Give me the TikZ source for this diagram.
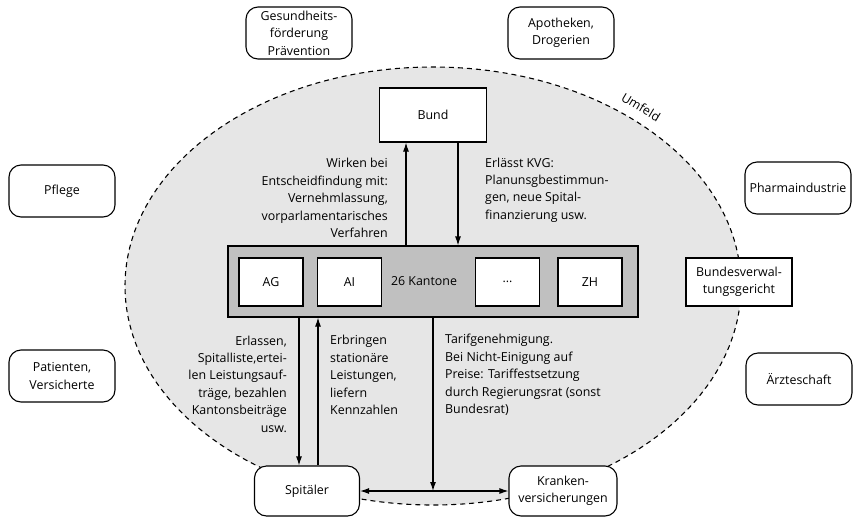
\documentclass[tikz,border=0pt]{standalone}
\usepackage{fontspec}
\setmainfont{Open Sans}
\usetikzlibrary{shapes.geometric,arrows.meta}
\begin{document}
\begin{tikzpicture}[x=1pt,y=-1pt]
    \definecolor{field_color}{RGB}{230,230,230}
    \definecolor{canton_color}{RGB}{192,192,192}
    \tikzstyle{every node} = [font=\fontsize{12.4}{17.4}\selectfont]
    \tikzstyle{actor} = [draw, fill=white, rounded corners=12pt, line width=1.1pt, minimum width=106pt, minimum height=52pt, align=center, inner sep=1pt]
    \tikzstyle{box} = [draw, fill=white, line width=1.1pt, align=center, inner sep=1pt]
    \tikzstyle{canton} = [box, minimum width=64pt, minimum height=48pt]
    \tikzstyle{ann} = [align=left, inner sep=0pt]
    \tikzstyle{arr} = [line width=1.1pt, -{Latex[length=9pt,width=6pt]}]
    \tikzstyle{arr2} = [line width=1.1pt, {Latex[length=9pt,width=6pt]}-{Latex[length=9pt,width=6pt]}]
    \useasboundingbox (0,0) rectangle (854,520);
    \node[ellipse, draw, fill=field_color, line width=1.1pt, dash pattern=on 5pt off 4pt, minimum width=616pt, minimum height=438pt, inner sep=0pt] (umfeld) at (433,286) {};
    \node[rotate=-31] (umfeldlabel) at (641,107) {Umfeld};
    \node[actor] (gesund) at (299,33) {Gesundheits-\\förderung\\Prävention};
    \node[actor] (apo) at (561,33) {Apotheken,\\Drogerien};
    \node[actor] (pflege) at (62,191) {Pflege};
    \node[actor] (patient) at (62,376) {Patienten,\\Versicherte};
    \node[actor] (pharma) at (798,188) {Pharmaindustrie};
    \node[box, minimum width=106pt, minimum height=48pt] (bvger) at (739,282) {Bundesverwal-\\tungsgericht};
    \node[actor] (aerzte) at (799,379) {Ärzteschaft};
    \node[box, minimum width=107pt, minimum height=54pt] (bund) at (433,115) {Bund};
    \node[draw, fill=canton_color, line width=1.1pt, minimum width=410pt, minimum height=71pt] (kantone) at (433,281.5) {};
    \node[canton] (ag) at (271,282) {AG};
    \node[canton] (ai) at (349.5,282) {AI};
    \node[ann] (anzahl) at (424,281) {26 Kantone};
    \node[canton] (weitere) at (507.5,282) {...};
    \node[canton] (zh) at (590,282) {ZH};
    \node[actor, minimum width=105pt, minimum height=50pt] (spital) at (307,491) {Spitäler};
    \node[actor, minimum width=108pt, minimum height=50pt] (kranken) at (563,491) {Kranken-\\versicherungen};
    \draw[arr] ([xshift=-27pt]kantone.north) -- ([xshift=-27pt]bund.south);
    \draw[arr] ([xshift=25pt]bund.south) -- ([xshift=25pt]kantone.north);
    \draw[arr] ([xshift=-134pt]kantone.south) -- ([xshift=-8pt]spital.north);
    \draw[arr] ([xshift=11pt]spital.north) -- ([xshift=-115pt]kantone.south);
    \draw[arr] (kantone.south) -- (kantone.south |- spital.east);
    \draw[arr2] (spital.east) -- (kranken.west);
    \node[ann, align=right, anchor=east] (mitwirken) at (388,198) {Wirken bei\\Entscheidfindung mit:\\Vernehmlassung,\\vorparlamentarisches\\Verfahren};
    \node[ann, anchor=west] (kvg) at (485,190) {Erlässt KVG:\\Planunsgbestimmun-\\gen, neue Spital-\\finanzierung usw.};
    \node[ann, align=right, anchor=east] (erlassen) at (287,384) {Erlassen,\\Spitalliste,ertei-\\len Leistungsauf-\\träge, bezahlen\\Kantonsbeiträge\\usw.};
    \node[ann, anchor=west] (erbringen) at (330,375) {Erbringen\\stationäre\\Leistungen,\\liefern\\Kennzahlen};
    \node[ann, anchor=west] (tarif) at (445,375) {Tarifgenehmigung.\\Bei Nicht-Einigung auf\\Preise: Tariffestsetzung\\durch Regierungsrat (sonst\\Bundesrat)};
\end{tikzpicture}
\end{document}
